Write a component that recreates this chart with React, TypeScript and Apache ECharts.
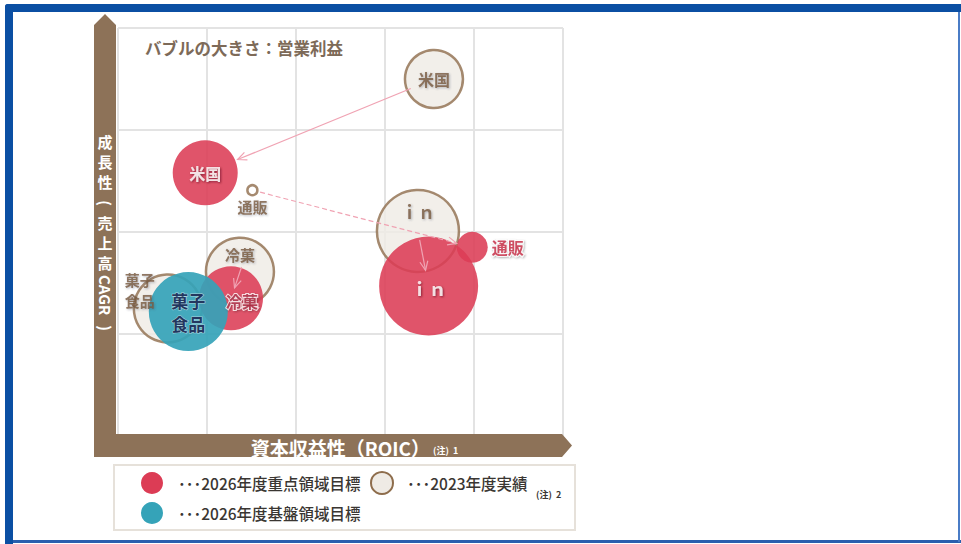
import React, { useEffect, useRef } from "react";
import * as echarts from "echarts";

// ---- data ----
// 2023年度実績 (ROIC position, CAGR position, operating profit bubble size)
const actualNames = ["米国", "通販", "ｉｎ", "冷菓", "菓子\n食品"];
const actualRoic = [3.55, 1.51, 3.37, 1.37, 0.56];
const actualCagr = [3.5, 2.41, 2.01, 1.61, 1.25];
const actualProfit = [58, 10, 82, 68, 68];

// 2026年度重点領域目標
const focusNames = ["米国", "通販", "ｉｎ", "冷菓"];
const focusRoic = [0.98, 3.98, 3.49, 1.27];
const focusCagr = [2.58, 1.85, 1.47, 1.35];
const focusProfit = [65, 31, 99, 64];

// 2026年度基盤領域目標
const baseNames = ["菓子\n食品"];
const baseRoic = [0.79];
const baseCagr = [1.22];
const baseProfit = [79];

// arrows: index in actual -> index in focus
const arrowFrom = [0, 1, 2, 3];
const arrowTo = [0, 1, 2, 3];

const xTicks = [0, 1, 2, 3, 4, 5];
const yTicks = [0, 1, 2, 3, 4];

// ---- styles ----
const FONT = "'Noto Sans CJK JP', 'Noto Sans', sans-serif";
const RED = "#dc3c55";
const TEAL = "#35a3b8";
const BEIGE = "#efebe5";
const BROWN = "#8e6d4c";
const LABEL_BROWN = "#785a3e";
const ARROW = "#f0a3b3";
const arrowTrim = [
  [25, 35],
  [8, 16],
  [9, 16],
  [-5, 11],
];
const arrowDashed = [false, true, false, false];

const actualLabels: any[] = [
  { position: "inside", fontSize: 16 },
  { position: "bottom", distance: 4, fontSize: 15 },
  { position: "inside", offset: [0, -19], fontSize: 17 },
  { position: "inside", offset: [0, -17], fontSize: 15 },
  { position: "inside", offset: [-28, -19], fontSize: 15, lineHeight: 21 },
];
const focusLabels: any[] = [
  { position: "inside", color: "#fff", fontSize: 16, textShadowColor: "rgba(90,0,20,0.8)" },
  {
    position: "right",
    distance: 4,
    color: "#c4263f",
    fontSize: 16,
    textBorderColor: "#fff",
    textBorderWidth: 2,
    textShadowColor: "rgba(0,0,0,0.35)",
  },
  { position: "inside", offset: [0, 2], color: "#fff", fontSize: 18, textShadowColor: "rgba(90,0,20,0.8)" },
  {
    position: "inside",
    offset: [11, 3],
    color: "#a51c34",
    fontSize: 16,
    textBorderColor: "#fff",
    textBorderWidth: 2,
    textShadowColor: "rgba(0,0,0,0.3)",
  },
];

const centered = {
  fill: "#fff",
  fontWeight: "bold",
  fontFamily: FONT,
  textAlign: "center",
  textVerticalAlign: "middle",
  align: "center",
  verticalAlign: "middle",
};

export default function App() {
  const ref = useRef<HTMLDivElement>(null);

  useEffect(() => {
    if (!ref.current) return;
    const chart = echarts.init(ref.current, undefined, { renderer: "svg" });

    const actualData = actualNames.map((n, i) => ({
      name: n,
      value: [actualRoic[i], actualCagr[i], actualProfit[i]],
      itemStyle: i === 1 ? { color: "#fff" } : undefined,
    }));
    const actualLabelData = actualNames.map((n, i) => ({
      name: n,
      value: [actualRoic[i], actualCagr[i], actualProfit[i]],
      label: {
        show: true,
        formatter: n,
        color: LABEL_BROWN,
        fontWeight: "bold",
        fontFamily: FONT,
        textShadowColor: "rgba(60,70,90,0.45)",
        textShadowBlur: 2,
        textShadowOffsetX: 1,
        textShadowOffsetY: 1,
        ...actualLabels[i],
      },
    }));
    const focusData = focusNames.map((n, i) => ({
      name: n,
      value: [focusRoic[i], focusCagr[i], focusProfit[i]],
    }));
    const focusLabelData = focusNames.map((n, i) => ({
      name: n,
      value: [focusRoic[i], focusCagr[i], focusProfit[i]],
      label: {
        show: true,
        formatter: n,
        fontWeight: "bold",
        fontFamily: FONT,
        textShadowBlur: 2,
        textShadowOffsetX: 1,
        textShadowOffsetY: 1,
        ...focusLabels[i],
      },
    }));
    const baseData = baseNames.map((n, i) => ({
      name: n,
      value: [baseRoic[i], baseCagr[i], baseProfit[i]],
      label: {
        show: true,
        formatter: n,
        position: "inside",
        color: "#1b2a55",
        fontSize: 17,
        lineHeight: 23,
        fontWeight: "bold",
        fontFamily: FONT,
        textBorderColor: "rgba(255,255,255,0.6)",
        textBorderWidth: 1,
      },
    }));
    const arrowData = arrowFrom.map((a, i) => [
      actualRoic[a],
      actualCagr[a],
      focusRoic[arrowTo[i]],
      focusCagr[arrowTo[i]],
    ]);

    const graphic: any[] = [
      // frame
      { type: "rect", shape: { x: 5, y: 4, width: 956, height: 8, r: [3, 0, 0, 0] }, style: { fill: "#0b4fa3" }, z: 10 },
      { type: "rect", shape: { x: 5, y: 4, width: 8, height: 540, r: [3, 0, 0, 0] }, style: { fill: "#0b4fa3" }, z: 10 },
      { type: "rect", shape: { x: 13, y: 540, width: 948, height: 3 }, style: { fill: "#2a5fae" }, z: 10 },
      { type: "rect", shape: { x: 958, y: 12, width: 2, height: 530 }, style: { fill: "#4a7cc6" }, z: 10 },
      // brown L arrow
      {
        type: "polygon",
        z: 1,
        shape: {
          points: [
            [94, 457],
            [94, 25],
            [105, 14],
            [116, 25],
            [116, 434],
            [562, 434],
            [572, 445.5],
            [562, 457],
          ],
        },
        style: { fill: "#8d7258" },
      },
      // y axis title (vertical writing)
      {
        type: "text",
        z: 2,
        x: 105,
        y: 161,
        style: { ...centered, text: "成\n長\n性", fontSize: 15, lineHeight: 20 },
      },
      {
        type: "text",
        z: 2,
        x: 105,
        y: 203,
        rotation: -Math.PI / 2,
        style: { ...centered, text: "(", fontSize: 15, lineHeight: 16 },
      },
      {
        type: "text",
        z: 2,
        x: 105,
        y: 242,
        style: { ...centered, text: "売\n上\n高", fontSize: 15, lineHeight: 20 },
      },
      {
        type: "text",
        z: 2,
        x: 105,
        y: 295,
        rotation: -Math.PI / 2,
        style: { ...centered, text: "CAGR", fontSize: 15, lineHeight: 16 },
      },
      {
        type: "text",
        z: 2,
        x: 105,
        y: 328,
        rotation: -Math.PI / 2,
        style: { ...centered, text: ")", fontSize: 15, lineHeight: 16 },
      },
      // x axis label
      {
        type: "text",
        z: 2,
        x: 430,
        y: 447,
        style: {
          ...centered,
          text: "資本収益性（ROIC）",
          fontSize: 19,
          textAlign: "right",
          align: "right",
        },
      },
      {
        type: "text",
        z: 2,
        x: 433,
        y: 450,
        style: { ...centered, text: "(注)  1", fontSize: 9, textAlign: "left", align: "left" },
      },
      // note
      {
        type: "text",
        z: 2,
        x: 145,
        y: 48,
        style: {
          ...centered,
          text: "バブルの大きさ：営業利益",
          fill: "#7d6a58",
          fontSize: 16.5,
          textAlign: "left",
          align: "left",
        },
      },
      // legend
      {
        type: "rect",
        z: 1,
        shape: { x: 114, y: 465, width: 461, height: 65 },
        style: { fill: "#fff", stroke: "#e6e1da", lineWidth: 2 },
      },
      { type: "circle", z: 2, shape: { cx: 152, cy: 483, r: 11 }, style: { fill: RED } },
      { type: "circle", z: 2, shape: { cx: 382, cy: 483, r: 11 }, style: { fill: BEIGE, stroke: BROWN, lineWidth: 2 } },
      { type: "circle", z: 2, shape: { cx: 152, cy: 513, r: 11 }, style: { fill: TEAL } },
      ...[
        { t: "･･･2026年度重点領域目標", x: 178, y: 483 },
        { t: "･･･2023年度実績", x: 407, y: 483 },
        { t: "･･･2026年度基盤領域目標", x: 178, y: 513 },
      ].map((l) => ({
        type: "text",
        z: 2,
        x: l.x,
        y: l.y,
        style: {
          ...centered,
          text: l.t,
          fill: "#3a3632",
          fontSize: 15.5,
          fontWeight: 500,
          textAlign: "left",
          align: "left",
        },
      })),
      {
        type: "text",
        z: 2,
        x: 536,
        y: 494,
        style: { ...centered, text: "(注)  2", fill: "#3a3632", fontSize: 9, textAlign: "left", align: "left" },
      },
    ];

    const sizeFn = (v: number[]) => v[2];

    chart.setOption({
      animation: false,
      backgroundColor: "#fff",
      grid: { left: 118, top: 28, width: 445, height: 408 },
      xAxis: {
        type: "value",
        min: xTicks[0],
        max: xTicks[xTicks.length - 1],
        interval: 1,
        axisLine: { show: false },
        axisTick: { show: false },
        axisLabel: { show: false },
        splitLine: { show: true, lineStyle: { color: "#e3e3e3", width: 2 } },
      },
      yAxis: {
        type: "value",
        min: yTicks[0],
        max: yTicks[yTicks.length - 1],
        interval: 1,
        axisLine: { show: false },
        axisTick: { show: false },
        axisLabel: { show: false },
        splitLine: { show: true, lineStyle: { color: "#e3e3e3", width: 2 } },
      },
      graphic,
      series: [
        {
          type: "scatter",
          name: "2023年度実績",
          z: 3,
          symbolSize: sizeFn,
          itemStyle: { color: BEIGE, borderColor: BROWN, borderWidth: 2.5 },
          data: actualData,
        },
        {
          type: "scatter",
          name: "2026年度重点領域目標",
          z: 4,
          symbolSize: sizeFn,
          itemStyle: { color: RED, opacity: 0.88 },
          data: focusData,
        },
        {
          type: "scatter",
          name: "2026年度基盤領域目標",
          z: 5,
          symbolSize: sizeFn,
          itemStyle: { color: TEAL, opacity: 0.92 },
          data: baseData,
        },
        {
          type: "custom",
          name: "arrows",
          z: 6,
          silent: true,
          encode: { x: [0, 2], y: [1, 3] },
          data: arrowData,
          renderItem: (params: any, api: any) => {
            const i = params.dataIndex;
            const p1 = api.coord([api.value(0), api.value(1)]);
            const p2 = api.coord([api.value(2), api.value(3)]);
            const dx = p2[0] - p1[0];
            const dy = p2[1] - p1[1];
            const len = Math.hypot(dx, dy) || 1;
            const ux = dx / len;
            const uy = dy / len;
            const [t0, t1] = arrowTrim[i];
            const s = [p1[0] + ux * t0, p1[1] + uy * t0];
            const e = [p2[0] - ux * t1, p2[1] - uy * t1];
            const h = 9;
            const w = 4;
            const bx = e[0] - ux * h;
            const by = e[1] - uy * h;
            return {
              type: "group",
              children: [
                {
                  type: "line",
                  shape: { x1: s[0], y1: s[1], x2: e[0], y2: e[1] },
                  style: { stroke: ARROW, lineWidth: 1.2, lineDash: arrowDashed[i] ? [5, 3] : null },
                },
                {
                  type: "polyline",
                  shape: {
                    points: [
                      [bx - uy * w, by + ux * w],
                      e,
                      [bx + uy * w, by - ux * w],
                    ],
                  },
                  style: { stroke: ARROW, lineWidth: 1.2, fill: null },
                },
              ],
            };
          },
        },
        // label overlays (transparent symbols, labels drawn above all bubbles)
        {
          type: "scatter",
          name: "2023年度実績ラベル",
          z: 7,
          silent: true,
          symbolSize: sizeFn,
          itemStyle: { color: "rgba(0,0,0,0)" },
          data: actualLabelData,
        },
        {
          type: "scatter",
          name: "2026年度重点領域目標ラベル",
          z: 8,
          silent: true,
          symbolSize: sizeFn,
          itemStyle: { color: "rgba(0,0,0,0)" },
          data: focusLabelData,
        },
      ],
    });

    return () => chart.dispose();
  }, []);

  return (
    <div
      ref={ref}
      style={{ position: "fixed", left: 0, top: 0, width: 961, height: 544, background: "#fff" }}
    />
  );
}
